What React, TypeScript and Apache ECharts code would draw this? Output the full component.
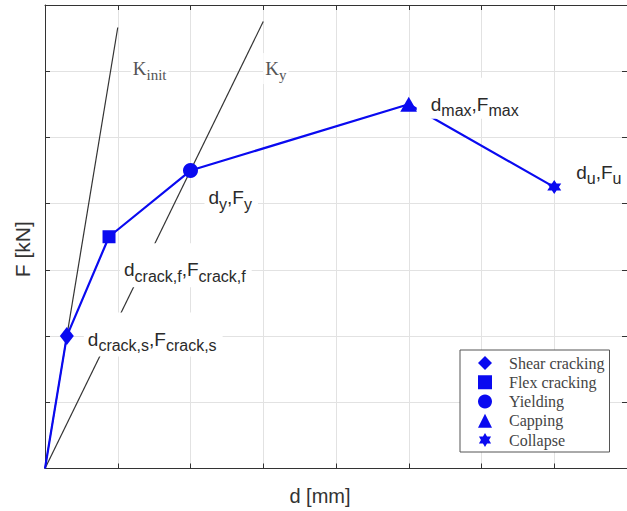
import React, { useEffect, useRef } from "react";
import * as echarts from "echarts";

// ---- data ----
const pointNames = ["Shear cracking", "Flex cracking", "Yielding", "Capping", "Collapse"];
const dispMm = [0, 0.3, 0.88, 2, 5, 7];
const forceKn = [0, 2, 3.5, 4.5, 5.5, 4.25];
const pointSubs = ["crack,s", "crack,f", "y", "max", "u"];
const kInitLine = [[0, 0], [1, 6.66]];
const kYieldLine = [[0, 0], [3, 6.75]];
const kSubs = ["init", "y"];
const xRange = [0, 8];
const yRange = [0, 7];

const BLUE = "#0a0af0";
const STAR =
  "path://M0,-10 L2.887,-5 L8.66,-5 L5.774,0 L8.66,5 L2.887,5 L0,10 L-2.887,5 L-8.66,5 L-5.774,0 L-8.66,-5 L-2.887,-5 Z";

const markerStyles = [
  { symbol: "diamond", size: [14, 18], off: [17, -1.5], pad: [12, 6, 3, 4] },
  { symbol: "rect", size: 13, off: [11, 28.5], pad: [12, 6, 3, 4] },
  { symbol: "circle", size: 15, off: [14, 22.5], pad: [12, 6, 3, 4] },
  { symbol: "triangle", size: [17, 15], off: [8, -6], pad: [12, 6, 0, 14] },
  { symbol: STAR, size: 14, off: [18, -19.5], pad: [12, 6, 3, 4] },
];
const kLabelOffsets = [
  [13, 41],
  [0, 47],
];

const axisCommon = {
  type: "value",
  axisLabel: { show: false },
  axisLine: { show: true, onZero: false, lineStyle: { color: "#333", width: 1 } },
  axisTick: { show: true, inside: true, length: 5, lineStyle: { color: "#333" } },
};

export default function App() {
  const ref = useRef<HTMLDivElement>(null);
  useEffect(() => {
    document.body.style.margin = "0";
    const chart = echarts.init(ref.current!, null, { renderer: "svg" });

    const mainRich = {
      m: { fontSize: 19, fontFamily: "Liberation Sans", color: "#2a2a2a", verticalAlign: "middle" },
      s: {
        fontSize: 16,
        fontFamily: "Liberation Sans",
        color: "#2a2a2a",
        verticalAlign: "middle",
        padding: [13, 0, 0, 0],
      },
    };
    const kRich = {
      k: { fontSize: 19, fontFamily: "Liberation Serif", color: "#555", verticalAlign: "middle" },
      ks: {
        fontSize: 15,
        fontFamily: "Liberation Serif",
        color: "#555",
        verticalAlign: "middle",
        padding: [12, 0, 0, 0],
      },
    };

    const kSeries = [kInitLine, kYieldLine].map((line, i) => ({
      type: "line",
      silent: true,
      data: line.map((p, j) =>
        j === line.length - 1
          ? {
              value: p,
              label: {
                show: true,
                position: "inside",
                align: "left",
                verticalAlign: "middle",
                offset: kLabelOffsets[i],
                backgroundColor: "#fff",
                padding: [2, 2, 2, 2],
                formatter: `{k|K}{ks|${kSubs[i]}}`,
                rich: kRich,
              },
            }
          : { value: p }
      ),
      showSymbol: true,
      symbol: "circle",
      symbolSize: 0,
      lineStyle: { color: "#333", width: 1.2 },
      itemStyle: { color: "#333" },
      z: 2,
    }));

    const curve = {
      type: "line",
      silent: true,
      data: dispMm.map((d, i) => [d, forceKn[i]]),
      symbol: "none",
      lineStyle: { color: BLUE, width: 2.2 },
      z: 3,
    };

    const markers = pointNames.map((name, i) => {
      const st = markerStyles[i];
      const sub = pointSubs[i];
      return {
        type: "scatter",
        name,
        silent: true,
        data: [[dispMm[i + 1], forceKn[i + 1]]],
        symbol: st.symbol,
        symbolSize: st.size,
        itemStyle: { color: BLUE, opacity: 1 },
        label: {
          show: true,
          position: "inside",
          align: "left",
          verticalAlign: "middle",
          offset: st.off,
          backgroundColor: "#fff",
          padding: st.pad,
          formatter: `{m|d}{s|${sub}}{m|,F}{s|${sub}}`,
          rich: mainRich,
        },
        z: 4,
      };
    });

    chart.setOption({
      animation: false,
      textStyle: { fontFamily: "Liberation Sans" },
      grid: { left: 45, top: 5, width: 586, height: 463.5 },
      legend: {
        data: pointNames,
        orient: "vertical",
        left: 460,
        top: 350,
        padding: [5, 5, 4, 18],
        itemWidth: 14,
        itemHeight: 14,
        itemGap: 3.25,
        symbolKeepAspect: true,
        borderColor: "#555",
        borderWidth: 1,
        borderRadius: 0,
        backgroundColor: "#fff",
        selectedMode: false,
        textStyle: {
          fontFamily: "Liberation Serif",
          fontSize: 16,
          color: "#444",
          lineHeight: 15,
          padding: [0, 0, 0, 12],
        },
      },
      xAxis: [
        {
          ...axisCommon,
          position: "bottom",
          min: xRange[0],
          max: xRange[1],
          interval: 1,
          name: "d [mm]",
          nameLocation: "middle",
          nameGap: 17,
          nameTextStyle: {
            fontSize: 20,
            fontFamily: "Liberation Sans",
            color: "#333",
            padding: [0, 32, 0, 0],
          },
          splitLine: { show: true, lineStyle: { color: "#e2e2e2", width: 1 } },
        },
        {
          ...axisCommon,
          position: "top",
          min: xRange[0],
          max: xRange[1],
          interval: 1,
          splitLine: { show: false },
        },
      ],
      yAxis: [
        {
          ...axisCommon,
          position: "left",
          min: yRange[0],
          max: yRange[1],
          interval: 1,
          name: "F [kN]",
          nameLocation: "middle",
          nameGap: 12,
          nameTextStyle: {
            fontSize: 21,
            fontFamily: "Liberation Sans",
            color: "#333",
            padding: [0, 25, 0, 0],
          },
          splitLine: { show: true, lineStyle: { color: "#e2e2e2", width: 1 } },
        },
        {
          ...axisCommon,
          position: "right",
          min: yRange[0],
          max: yRange[1],
          interval: 1,
          splitLine: { show: false },
        },
      ],
      series: [...kSeries, curve, ...markers],
    });
    return () => chart.dispose();
  }, []);
  return <div ref={ref} style={{ width: 627, height: 511 }} />;
}
